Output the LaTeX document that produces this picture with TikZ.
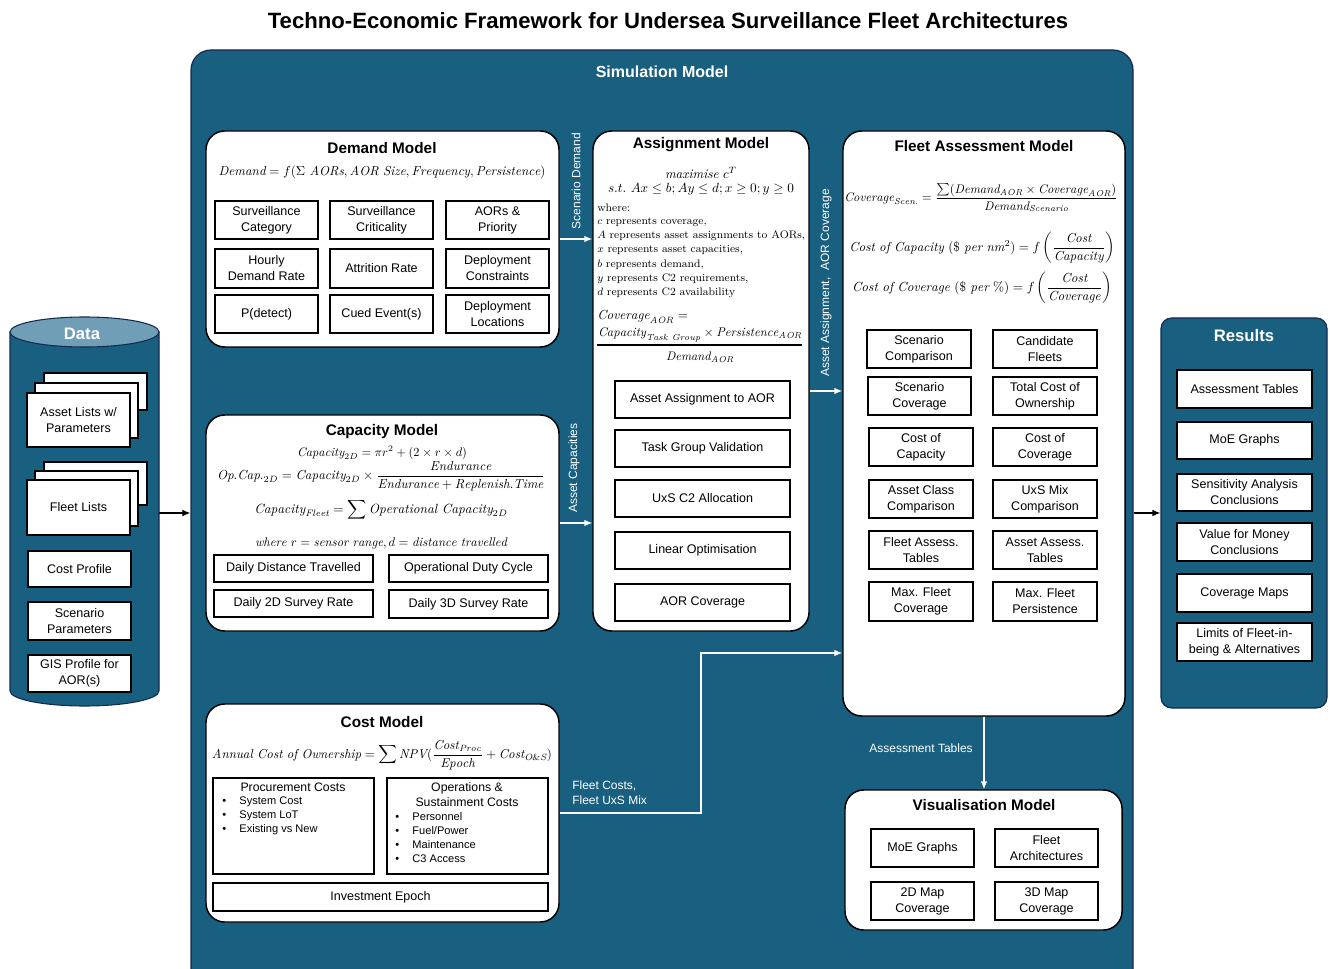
\documentclass[tikz,border=0pt]{standalone}
\usepackage{amsmath}
\usepackage{graphicx}
\usepackage{fontspec}
\usetikzlibrary{arrows.meta,calc}
\newfontfamily\sff{Liberation Sans}
\definecolor{simteal}{RGB}{24,95,128}
\definecolor{dtop}{RGB}{112,158,182}
\definecolor{navy}{RGB}{20,42,78}
\tikzset{
 bx/.style n args={4}{at={({(#1+#3)/2},{(#2+#4)/2})}, minimum width={(#3-#1)*0.75pt}, minimum height={(#4-#2)*0.75pt}},
 panel/.style={draw=black, line width=1.1pt, fill=white, rounded corners=14pt, inner sep=0pt},
 sbox/.style={draw=black, line width=0.85pt, fill=white, inner sep=0pt, align=center, font=\sff\fontsize{9.4}{12}\selectfont},
 ptitle/.style={font=\sff\bfseries\fontsize{11.5}{13}\selectfont},
 wtitle/.style={font=\sff\bfseries\fontsize{12.5}{14}\selectfont, text=white},
 wlab/.style={text=white, font=\sff\fontsize{9}{11.5}\selectfont, inner sep=0pt},
 fml/.style={inner sep=0pt},
 wln/.style={font=\rmfamily\fontsize{8.2}{10}\selectfont, anchor=west, inner sep=0pt},
 bul/.style={font=\sff\fontsize{8.3}{10.5}\selectfont, anchor=north west, inner sep=0pt},
 warrow/.style={draw=white, line width=0.9pt, -{Latex[length=6pt,width=5pt]}},
 barrow/.style={draw=black, line width=0.9pt, -{Latex[length=6pt,width=5pt]}},
}
\begin{document}
\begin{tikzpicture}[x=0.75pt,y=-0.75pt]
\useasboundingbox (0,0) rectangle (1330,969);
% title
\node[font=\sff\bfseries\fontsize{16.6}{19}\selectfont] (title) at (668,21) {Techno-Economic Framework for Undersea Surveillance Fleet Architectures};

% simulation panel
\node[draw=navy, line width=0.9pt, fill=simteal, rounded corners=15pt, inner sep=0pt, bx={191}{50}{1133}{1000}] (sim) {};
\node[wtitle, font=\sff\bfseries\fontsize{12}{14}\selectfont] (simt) at (662,72) {Simulation Model};

% ---------------- Data cylinder
\path[fill=simteal, draw=navy, line width=0.8pt] (10,332) -- (10,691) arc[start angle=180, end angle=360, x radius=55.875pt, y radius=11.25pt] -- (159,332) -- cycle;
\draw[fill=dtop, draw=navy, line width=0.8pt] (84.5,332) ellipse[x radius=55.875pt, y radius=11.25pt];
\node[wtitle] (datat) at (82,334) {Data};
\coordinate (datar) at (159,513);
\node[sbox, bx={44}{373}{147}{410}] (a3) {};
\node[sbox, bx={35}{383}{138}{438}] (a2) {};
\node[sbox, bx={27}{393}{130}{447}] (a1) {Asset Lists w/\\Parameters};
\node[sbox, bx={44}{462}{147}{505}] (f3) {};
\node[sbox, bx={35}{471}{138}{526}] (f2) {};
\node[sbox, bx={27}{480}{130}{535}] (f1) {Fleet Lists};
\node[sbox, bx={28}{551}{131}{587}] (cp) {Cost Profile};
\node[sbox, bx={28}{602}{131}{640}] (sp) {Scenario\\Parameters};
\node[sbox, bx={28}{655}{131}{692}] (gis) {GIS Profile for\\AOR(s)};

% ---------------- Results
\node[draw=navy, line width=0.9pt, fill=simteal, rounded corners=8pt, inner sep=0pt, bx={1161}{318}{1327}{708}] (res) {};
\node[wtitle] (rest) at (1244,336) {Results};
\node[sbox, bx={1177}{370}{1312}{408}] (r1) {Assessment Tables};
\node[sbox, bx={1177}{422}{1312}{459}] (r2) {MoE Graphs};
\node[sbox, bx={1177}{474}{1312}{511}] (r3) {Sensitivity Analysis\\Conclusions};
\node[sbox, bx={1177}{523}{1312}{561}] (r4) {Value for Money\\Conclusions};
\node[sbox, bx={1177}{574}{1312}{612}] (r5) {Coverage Maps};
\node[sbox, bx={1177}{623}{1312}{661}] (r6) {Limits of Fleet-in-\\being \& Alternatives};

\draw[barrow] (datar) -- (sim.west |- datar);
\draw[barrow] (sim.east |- res.west) -- (res.west);

% ---------------- Demand model
\node[panel, bx={206}{131}{559}{347}] (demand) {};
\node[ptitle] (demandt) at (382,148) {Demand Model};
\node[fml] (demandf) at (382,172) {\resizebox{245pt}{!}{$\mathit{Demand} = f(\Sigma\ \mathit{AORs}, \mathit{AOR\ Size}, \mathit{Frequency}, \mathit{Persistence})$}};
\node[sbox, bx={215}{201}{318}{239}] (d11) {Surveillance\\Category};
\node[sbox, bx={330}{201}{433}{239}] (d12) {Surveillance\\Criticality};
\node[sbox, bx={446}{201}{549}{239}] (d13) {AORs \&\\Priority};
\node[sbox, bx={215}{249}{318}{288}] (d21) {Hourly\\Demand Rate};
\node[sbox, bx={330}{249}{433}{288}] (d22) {Attrition Rate};
\node[sbox, bx={446}{249}{549}{288}] (d23) {Deployment\\Constraints};
\node[sbox, bx={215}{295}{318}{333}] (d31) {P(detect)};
\node[sbox, bx={330}{295}{433}{333}] (d32) {Cued Event(s)};
\node[sbox, bx={446}{295}{549}{333}] (d33) {Deployment\\Locations};

% ---------------- Capacity model
\node[panel, bx={206}{415}{559}{631}] (capacity) {};
\node[ptitle] (capt) at (382,432) {Capacity Model};
\node[fml] (capf1) at (382,453) {\resizebox{127.5pt}{!}{$\mathit{Capacity}_{2D} = \pi r^2 + (2\times r\times d)$}};
\node[fml] (capf2) at (381,476) {\resizebox{246pt}{!}{$\mathit{Op.Cap.}_{2D} = \mathit{Capacity}_{2D}\times\dfrac{\mathit{Endurance}}{\mathit{Endurance}+\mathit{Replenish.Time}}$}};
\node[fml] (capf3) at (381,510) {\resizebox{190pt}{!}{$\mathit{Capacity}_{\mathit{Fleet}} = \displaystyle\sum \mathit{Operational\ Capacity}_{2D}$}};
\node[fml] (capw) at (381,543) {\resizebox{189pt}{!}{$\mathit{where}\ r = \mathit{sensor\ range}, d = \mathit{distance\ travelled}$}};
\node[sbox, bx={214}{555}{373}{582}] (c1) {Daily Distance Travelled};
\node[sbox, bx={389}{555}{548}{582}] (c2) {Operational Duty Cycle};
\node[sbox, bx={214}{590}{373}{617}] (c3) {Daily 2D Survey Rate};
\node[sbox, bx={389}{590}{548}{618}] (c4) {Daily 3D Survey Rate};

% ---------------- Cost model
\node[panel, bx={206}{704}{559}{922}] (cost) {};
\node[ptitle] (costt) at (382,722) {Cost Model};
\node[fml] (costf) at (382,755) {\resizebox{255pt}{!}{$\mathit{Annual\ Cost\ of\ Ownership} = \displaystyle\sum \mathit{NPV}(\frac{\mathit{Cost}_{\mathit{Proc}}}{\mathit{Epoch}} + \mathit{Cost}_{\mathit{O\&S}})$}};
\node[sbox, bx={213}{778}{374}{874}] (proc) {};
\node[sbox, bx={387}{778}{548}{874}] (ons) {};
\node[font=\sff\fontsize{9.2}{11.2}\selectfont, inner sep=0pt] (proct) at (293,787) {Procurement Costs};
\node[bul] (procb) at (222,794.5) {\begin{tabular}{@{}l@{\hspace{10pt}}l@{}}\textbullet & System Cost\\ \textbullet & System LoT\\ \textbullet & Existing vs New\end{tabular}};
\node[font=\sff\fontsize{9.2}{11.2}\selectfont, align=center, inner sep=0pt] (onst) at (467,794.5) {Operations \&\\Sustainment Costs};
\node[bul] (onsb) at (395,810) {\begin{tabular}{@{}l@{\hspace{10pt}}l@{}}\textbullet & Personnel\\ \textbullet & Fuel/Power\\ \textbullet & Maintenance\\ \textbullet & C3 Access\end{tabular}};
\node[sbox, bx={213}{883}{548}{911}] (epoch) {Investment Epoch};

% ---------------- Assignment model
\node[panel, bx={593}{131}{809}{631}] (assign) {};
\node[ptitle] (asst) at (701,145) {Assignment Model};
\node[fml] (assf1) at (701,173) {\resizebox{54pt}{!}{$\mathit{maximise}\ c^T$}};
\node[fml] (assf2) at (701,189) {\resizebox{139.5pt}{!}{$s.t.\ Ax \le b; Ay \le d; x \ge 0; y \ge 0$}};
\node[wln] (w0) at (597,208) {where:};
\node[wln] (w1) at (597,222) {$c$ represents coverage,};
\node[wln] (w2) at (597,236) {$A$ represents asset assignments to AORs,};
\node[wln] (w3) at (597,250) {$x$ represents asset capacities,};
\node[wln] (w4) at (597,265) {$b$ represents demand,};
\node[wln] (w5) at (597,279) {$y$ represents C2 requirements,};
\node[wln] (w6) at (597,293) {$d$ represents C2 availability};
\node[fml, anchor=west] (covl) at (597,317) {\resizebox{68pt}{!}{$\mathit{Coverage}_{\mathit{AOR}} =$}};
\node[fml] (covn) at (700,335) {\resizebox{153pt}{!}{$\mathit{Capacity}_{\mathit{Task\ Group}}\times\mathit{Persistence}_{\mathit{AOR}}$}};
\draw[line width=0.8pt] (597,345) -- (802,345);
\node[fml] (covd) at (700,357) {\resizebox{51pt}{!}{$\mathit{Demand}_{\mathit{AOR}}$}};
\node[sbox, bx={615}{381}{790}{418}] (as1) {Asset Assignment to AOR};
\node[sbox, bx={615}{430}{790}{467}] (as2) {Task Group Validation};
\node[sbox, bx={615}{480}{790}{517}] (as3) {UxS C2 Allocation};
\node[sbox, bx={615}{532}{790}{569}] (as4) {Linear Optimisation};
\node[sbox, bx={615}{584}{790}{621}] (as5) {AOR Coverage};

% ---------------- Fleet assessment model
\node[panel, bx={843}{131}{1125}{716}] (fleet) {};
\node[ptitle] (fleett) at (984,146) {Fleet Assessment Model};
\node[fml] (ff1) at (981,198) {\resizebox{205pt}{!}{$\mathit{Coverage}_{\mathit{Scen.}} = \dfrac{\textstyle\sum(\mathit{Demand}_{\mathit{AOR}}\times\mathit{Coverage}_{\mathit{AOR}})}{\mathit{Demand}_{\mathit{Scenario}}}$}};
\node[fml] (ff2) at (982,248) {\resizebox{199pt}{!}{$\mathit{Cost\ of\ Capacity}\ (\$\ \mathit{per}\ \mathit{nm}^2) = f\left(\dfrac{\mathit{Cost}}{\mathit{Capacity}}\right)$}};
\node[fml] (ff3) at (982,288) {\resizebox{195pt}{!}{$\mathit{Cost\ of\ Coverage}\ (\$\ \mathit{per}\ \%) = f\left(\dfrac{\mathit{Cost}}{\mathit{Coverage}}\right)$}};
\node[sbox, bx={867}{330}{971}{368}] (fa1) {Scenario\\Comparison};
\node[sbox, bx={993}{330}{1097}{368}] (fb1) {Candidate\\Fleets};
\node[sbox, bx={868}{377}{971}{415}] (fa2) {Scenario\\Coverage};
\node[sbox, bx={993}{377}{1097}{415}] (fb2) {Total Cost of\\Ownership};
\node[sbox, bx={869}{428}{973}{466}] (fa3) {Cost of\\Capacity};
\node[sbox, bx={993}{428}{1097}{466}] (fb3) {Cost of\\Coverage};
\node[sbox, bx={869}{480}{973}{518}] (fa4) {Asset Class\\Comparison};
\node[sbox, bx={993}{480}{1097}{518}] (fb4) {UxS Mix\\Comparison};
\node[sbox, bx={869}{531}{973}{569}] (fa5) {Fleet Assess.\\Tables};
\node[sbox, bx={993}{531}{1097}{569}] (fb5) {Asset Assess.\\Tables};
\node[sbox, bx={869}{582}{973}{621}] (fa6) {Max. Fleet\\Coverage};
\node[sbox, bx={993}{582}{1097}{621}] (fb6) {Max. Fleet\\Persistence};

% ---------------- Visualisation model
\node[panel, bx={845}{790}{1122}{930}] (vis) {};
\node[ptitle] (vist) at (984,805) {Visualisation Model};
\node[sbox, bx={871}{829}{974}{867}] (v1) {MoE Graphs};
\node[sbox, bx={995}{829}{1098}{867}] (v2) {Fleet\\Architectures};
\node[sbox, bx={871}{882}{974}{920}] (v3) {2D Map\\Coverage};
\node[sbox, bx={995}{882}{1098}{920}] (v4) {3D Map\\Coverage};

% ---------------- connectors
\draw[warrow] (demand.east) -- (assign.west |- demand.east);
\node[wlab, rotate=90] (lsd) at (576,181) {Scenario Demand};
\draw[warrow] (capacity.east) -- (assign.west |- capacity.east);
\node[wlab, rotate=90] (lac) at (574,468) {Asset Capacities};
\coordinate (aout) at ($(assign.east)+(0,10)$);
\draw[warrow] (aout) -- (fleet.west |- aout);
\node[wlab, rotate=90] (laa) at (826,283) {Asset Assignment,~ AOR Coverage};
\coordinate (bend) at (701,653);
\draw[warrow] (cost.east) -| (bend) -- (fleet.west |- bend);
\node[wlab, anchor=west, align=left] (lfc) at (572,793) {Fleet Costs,\\Fleet UxS Mix};
\draw[warrow] (fleet.south) -- (vis.north -| fleet.south);
\node[wlab] (lat) at (921,748) {Assessment Tables};
\end{tikzpicture}
\end{document}
